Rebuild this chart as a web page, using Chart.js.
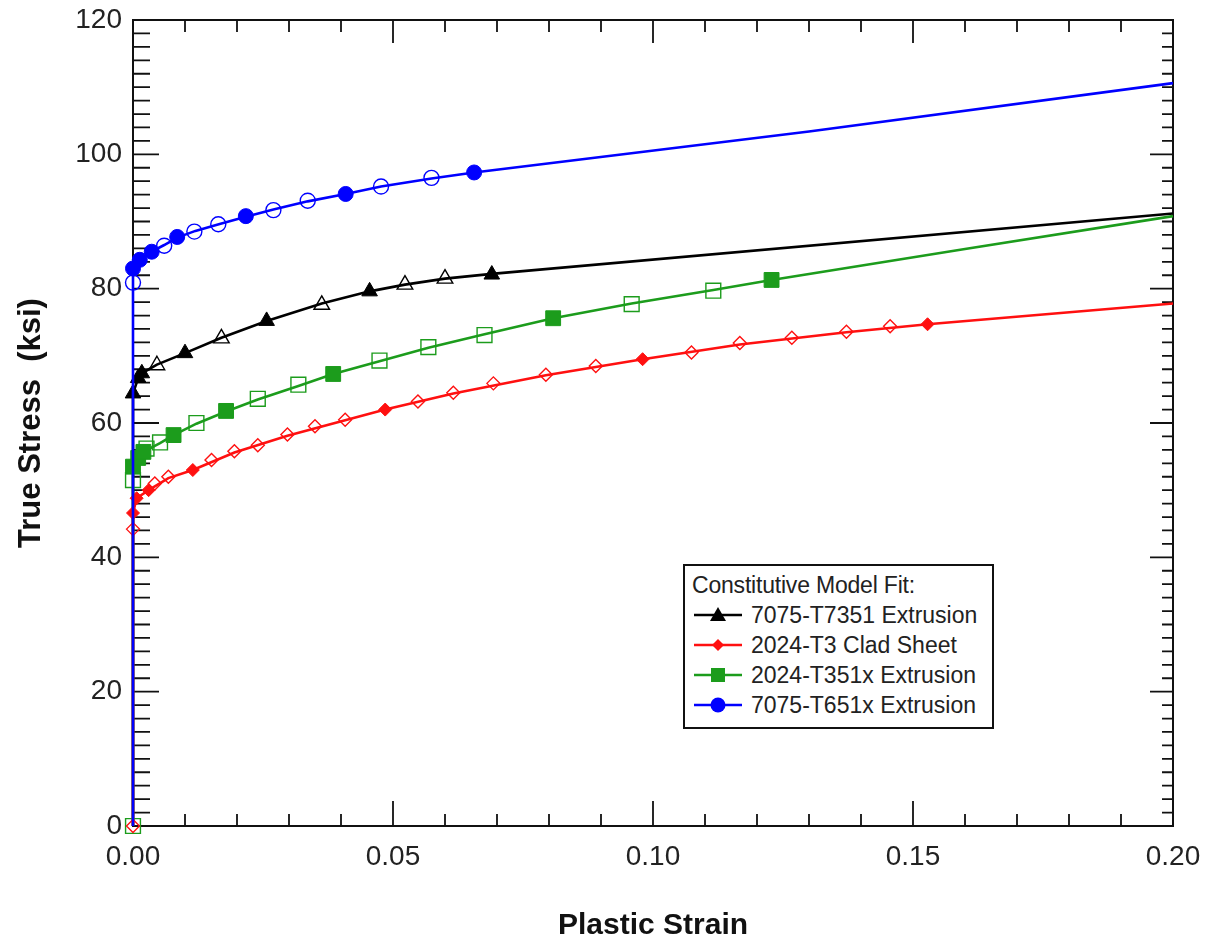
<!DOCTYPE html>
<html>
<head>
<meta charset="utf-8">
<script src="https://cdn.jsdelivr.net/npm/chart.js@4.4.1/dist/chart.umd.min.js"></script>
<style>
  body { margin: 0; background: #fff; }
  #wrap { position: relative; width: 1208px; height: 942px; }
  #legend {
    position: absolute; left: 683px; top: 564px; width: 300px; height: 157px;
    border: 2px solid #111; background: #fff;
    font-family: "Liberation Sans", Arial, sans-serif; font-size: 23px; color: #222;
    padding: 4px 0 0 7px; box-sizing: content-box;
  }
  #legend .row { height: 30px; line-height: 30px; white-space: nowrap; display: flex; align-items: center; }
  #legend .title { font-size: 23px; letter-spacing: -0.2px; }
  #legend svg { margin: 0 9px 0 2px; }
</style>
</head>
<body>
<div id="wrap">
  <canvas id="grafica" width="1208" height="942"></canvas>
  <div id="legend"></div>
</div>
<script>
/* ============ DATOS ============ */
// 7075-T651x Extrusion (azul)
const blueFitX  = [0, 0, 0.0013, 0.0036, 0.006, 0.0085, 0.012, 0.0165, 0.0217, 0.027, 0.0336, 0.0409, 0.0477, 0.0574, 0.0656, 0.13, 0.2];
const blueFitY  = [0, 83.0, 84.3, 85.5, 86.5, 87.6, 88.6, 89.6, 90.7, 91.8, 93.0, 94.1, 95.2, 96.4, 97.3, 103.4, 110.6];
const blueMarkX = [0, 0.0013, 0.0036, 0.0085, 0.0217, 0.0409, 0.0656];
const blueMarkY = [83.0, 84.3, 85.5, 87.7, 90.8, 94.1, 97.3];
const blueTestX = [0, 0.006, 0.0118, 0.0164, 0.027, 0.0336, 0.0477, 0.0574];
const blueTestY = [80.9, 86.4, 88.5, 89.6, 91.7, 93.1, 95.2, 96.5];

// 7075-T7351 Extrusion (negro)
const blackFitX  = [0, 0, 0.001, 0.0017, 0.0046, 0.01, 0.017, 0.0257, 0.0363, 0.0455, 0.0523, 0.06, 0.069, 0.2];
const blackFitY  = [0, 64.4, 66.7, 67.4, 68.7, 70.4, 72.7, 75.2, 77.8, 79.6, 80.6, 81.5, 82.2, 91.2];
const blackMarkX = [0, 0.001, 0.0017, 0.01, 0.0257, 0.0455, 0.069];
const blackMarkY = [64.4, 66.7, 67.4, 70.4, 75.2, 79.6, 82.1];
const blackTestX = [0.0046, 0.017, 0.0363, 0.0523, 0.06];
const blackTestY = [68.6, 72.6, 77.6, 80.6, 81.5];

// 2024-T351x Extrusion (verde)
const greenFitX  = [0, 0, 0.001, 0.002, 0.0052, 0.0078, 0.0122, 0.0179, 0.024, 0.0318, 0.0385, 0.0474, 0.0568, 0.0676, 0.0808, 0.0959, 0.1116, 0.1228, 0.16, 0.2];
const greenFitY  = [0, 53.5, 54.8, 55.7, 57.0, 58.2, 59.9, 61.7, 63.5, 65.5, 67.3, 69.2, 71.2, 73.2, 75.6, 77.8, 79.8, 81.3, 85.9, 90.8];
const greenMarkX = [0, 0.001, 0.002, 0.0078, 0.0179, 0.0385, 0.0808, 0.1228];
const greenMarkY = [53.5, 54.8, 55.7, 58.2, 61.8, 67.3, 75.6, 81.3];
const greenTestX = [0, 0, 0.0026, 0.0052, 0.0122, 0.024, 0.0318, 0.0474, 0.0568, 0.0676, 0.0959, 0.1116];
const greenTestY = [0, 51.5, 56.2, 57.1, 60.0, 63.6, 65.7, 69.3, 71.3, 73.1, 77.7, 79.7];

// 2024-T3 Clad Sheet (rojo)
const redFitX  = [0, 0, 0.0007, 0.003, 0.0068, 0.0115, 0.0195, 0.0297, 0.0408, 0.0485, 0.0616, 0.0794, 0.098, 0.1167, 0.1372, 0.1528, 0.2];
const redFitY  = [0, 46.6, 48.8, 50.0, 51.8, 53.0, 55.6, 58.1, 60.4, 62.0, 64.4, 67.1, 69.5, 71.7, 73.5, 74.7, 77.8];
const redMarkX = [0, 0.0007, 0.003, 0.0115, 0.0485, 0.098, 0.1528];
const redMarkY = [46.6, 48.8, 50.0, 53.0, 62.0, 69.5, 74.7];
const redTestX = [0, 0, 0.0042, 0.0068, 0.0151, 0.0195, 0.024, 0.0297, 0.035, 0.0408, 0.0548, 0.0616, 0.0693, 0.0794, 0.089, 0.1074, 0.1167, 0.1267, 0.1372, 0.1456];
const redTestY = [0, 44.2, 51.0, 52.0, 54.5, 55.8, 56.7, 58.3, 59.5, 60.5, 63.2, 64.5, 65.9, 67.2, 68.5, 70.5, 71.9, 72.7, 73.6, 74.4];

const xTicks = [0, 0.05, 0.10, 0.15, 0.20];
const yTicks = [0, 20, 40, 60, 80, 100, 120];

const legendTitle = "Constitutive Model Fit:";
const legendLabels = ["7075-T7351 Extrusion", "2024-T3 Clad Sheet", "2024-T351x Extrusion", "7075-T651x Extrusion"];

/* ============ ESTILOS ============ */
const AZUL = "#0000ff", NEGRO = "#000000", VERDE = "#1c9c1c", ROJO = "#ff1010";
const FUENTE = '"Liberation Sans", Arial, sans-serif';

function puntos(xs, ys) {
  return xs.map((x, i) => ({ x: x, y: ys[i] }));
}

function linea(xs, ys, color) {
  return { data: puntos(xs, ys), showLine: true, borderColor: color, borderWidth: 2.6,
           pointRadius: 0, pointHoverRadius: 0, clip: false };
}

function marcas(xs, ys, color, estilo, radio) {
  return { data: puntos(xs, ys), showLine: false, pointStyle: estilo, pointRadius: radio,
           backgroundColor: color, borderColor: color, pointBorderWidth: 1, clip: false };
}

function abiertas(xs, ys, color, estilo, radio) {
  return { data: puntos(xs, ys), showLine: false, pointStyle: estilo, pointRadius: radio,
           backgroundColor: "rgba(255,255,255,0)", borderColor: color, pointBorderWidth: 1.4, clip: false };
}

/* ============ MARCO Y TICKS HACIA DENTRO ============ */
const marcoTicks = {
  id: "marcoTicks",
  beforeDatasetsDraw(chart) {
    const { ctx, chartArea: a, scales: { x, y } } = chart;
    ctx.save();
    ctx.strokeStyle = "#111";
    ctx.lineWidth = 2;
    ctx.strokeRect(a.left, a.top, a.right - a.left, a.bottom - a.top);
    ctx.lineWidth = 1.8;
    ctx.beginPath();
    for (let i = 0; i <= 20; i++) {
      const px = x.getPixelForValue(i * 0.01);
      const mayor = i % 5 === 0;
      ctx.moveTo(px, a.bottom); ctx.lineTo(px, a.bottom - (mayor ? 25 : 12));
      ctx.moveTo(px, a.top); ctx.lineTo(px, a.top + (mayor ? 23 : 12));
    }
    for (let v = 0; v <= 120; v += 2) {
      const py = y.getPixelForValue(v);
      const mayor = v % 20 === 0;
      ctx.moveTo(a.left, py); ctx.lineTo(a.left + (mayor ? 26 : 17), py);
      ctx.moveTo(a.right, py); ctx.lineTo(a.right - (mayor ? 23 : 11), py);
    }
    ctx.stroke();
    ctx.restore();
  }
};

/* ============ GRÁFICA ============ */
const chart = new Chart(document.getElementById("grafica"), {
  type: "scatter",
  data: {
    datasets: [
      marcas(blueMarkX, blueMarkY, AZUL, "circle", 7.5),
      abiertas(blueTestX, blueTestY, AZUL, "circle", 7.5),
      linea(blueFitX, blueFitY, AZUL),
      marcas(redMarkX, redMarkY, ROJO, "rectRot", 6.5),
      abiertas(redTestX, redTestY, ROJO, "rectRot", 6.5),
      linea(redFitX, redFitY, ROJO),
      marcas(greenMarkX, greenMarkY, VERDE, "rect", 10.5),
      abiertas(greenTestX, greenTestY, VERDE, "rect", 10.5),
      linea(greenFitX, greenFitY, VERDE),
      marcas(blackMarkX, blackMarkY, NEGRO, "triangle", 9),
      abiertas(blackTestX, blackTestY, NEGRO, "triangle", 9),
      linea(blackFitX, blackFitY, NEGRO)
    ]
  },
  options: {
    responsive: false,
    animation: false,
    events: [],
    layout: { padding: { top: 20, right: 35, left: 0, bottom: 0 } },
    plugins: { legend: { display: false }, tooltip: { enabled: false } },
    scales: {
      x: {
        type: "linear", min: 0, max: 0.2,
        afterFit: s => { s.height = 116; s.paddingLeft = 0; s.paddingRight = 0; },
        afterBuildTicks: s => { s.ticks = xTicks.map(v => ({ value: v })); },
        grid: { display: false, drawTicks: false },
        border: { display: false },
        ticks: { color: "#222", padding: 14, font: { family: FUENTE, size: 28 },
                 callback: v => v.toFixed(2) },
        title: { display: true, text: "Plastic Strain", color: "#111",
                 font: { family: FUENTE, size: 30, weight: "bold", lineHeight: 1 },
                 padding: { bottom: 1, top: 0 } }
      },
      y: {
        type: "linear", min: 0, max: 120,
        afterFit: s => { s.width = 133; s.paddingTop = 0; s.paddingBottom = 0; },
        afterBuildTicks: s => { s.ticks = yTicks.map(v => ({ value: v })); },
        grid: { display: false, drawTicks: false },
        border: { display: false },
        ticks: { color: "#222", padding: 11, font: { family: FUENTE, size: 28 } },
        title: { display: true, text: "True Stress  (ksi)", color: "#111",
                 font: { family: FUENTE, size: 31, weight: "bold", lineHeight: 1 },
                 padding: { top: 16, bottom: 0 } }
      }
    }
  },
  plugins: [marcoTicks]
});

/* ============ LEYENDA ============ */
const iconos = [
  { color: NEGRO, forma: '<polygon points="24,2 32,16 16,16" />' },
  { color: ROJO, forma: '<polygon points="24,4 30,10 24,16 18,10" />' },
  { color: VERDE, forma: '<rect x="17" y="3" width="14" height="14" />' },
  { color: AZUL, forma: '<circle cx="24" cy="10" r="7.5" />' }
];
const leyenda = document.getElementById("legend");
let html = '<div class="row title">' + legendTitle + '</div>';
legendLabels.forEach((txt, i) => {
  const ic = iconos[i];
  html += '<div class="row"><svg width="48" height="20" fill="' + ic.color + '">' +
          '<line x1="0" y1="10" x2="48" y2="10" stroke="' + ic.color + '" stroke-width="2.5"/>' +
          ic.forma + '</svg>' + txt + '</div>';
});
leyenda.innerHTML = html;
</script>
</body>
</html>
